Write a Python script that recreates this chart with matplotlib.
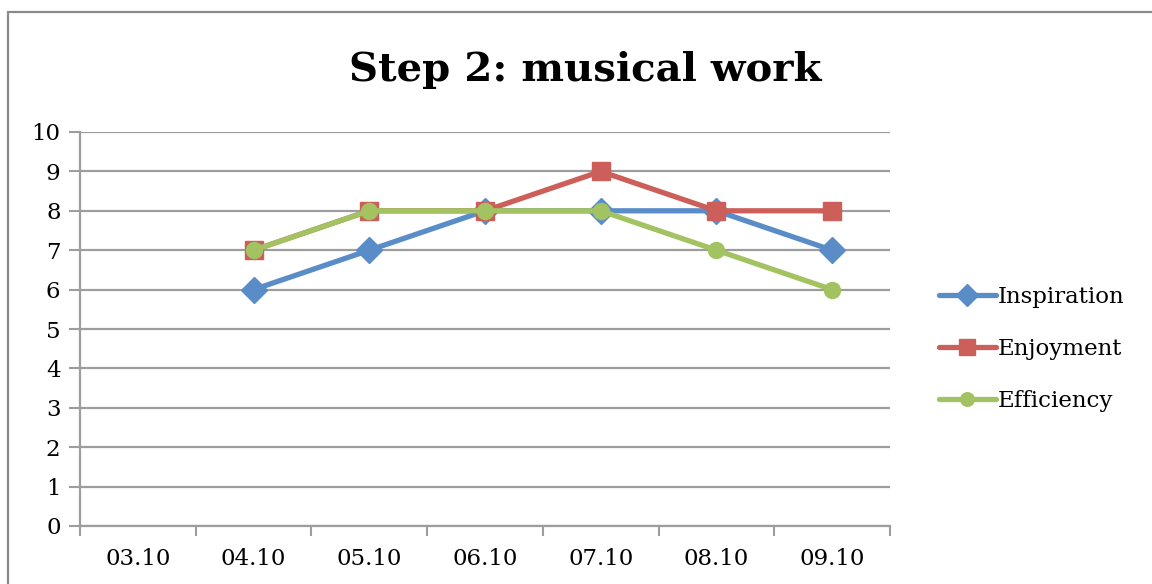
import numpy as np
import matplotlib
matplotlib.use("Agg")
import matplotlib.pyplot as plt
from matplotlib.patches import Rectangle

# Daily ratings for the musical work step
dates = ["03.10", "04.10", "05.10", "06.10", "07.10", "08.10", "09.10"]
inspiration = [np.nan, 6, 7, 8, 8, 8, 7]
enjoyment = [np.nan, 7, 8, 8, 9, 8, 8]
efficiency = [np.nan, 7, 8, 8, 8, 7, 6]
y_ticks = list(range(0, 11))

W, H = 1152, 584
fig = plt.figure(figsize=(W / 100, H / 100), dpi=100)
font = "DejaVu Serif"
grid_col = "#9d9d9d"

ax = fig.add_axes([80 / W, (H - 526) / H, 810 / W, 394 / H])
x = np.arange(len(dates))

series = [
    ("Inspiration", inspiration, "#5A8DC8", "D", 13),
    ("Enjoyment", enjoyment, "#CC5F59", "s", 13),
    ("Efficiency", efficiency, "#A3C262", "o", 11.5),
]
for name, vals, col, mk, ms in series:
    ax.plot(x, vals, color=col, lw=3.8, marker=mk, markersize=ms,
            markerfacecolor=col, markeredgecolor=col, label=name,
            solid_capstyle="round", clip_on=False, zorder=3)

ax.set_xlim(-0.5, len(dates) - 0.5)
ax.set_ylim(0, 10)

# category boundaries as tick marks, labels centred on categories
ax.set_xticks(np.arange(-0.5, len(dates)), minor=False)
ax.set_xticklabels([])
ax.set_xticks(x, minor=True)
ax.set_xticklabels(dates, minor=True, fontfamily=font, fontsize=16.5)
ax.tick_params(axis="x", which="major", length=7, width=1.5, color=grid_col, direction="out")
ax.tick_params(axis="x", which="minor", length=0, pad=16)

ax.set_yticks(y_ticks)
ax.set_yticklabels([str(v) for v in y_ticks], fontfamily=font, fontsize=16.5)
ax.tick_params(axis="y", length=8, width=1.5, color=grid_col, direction="out", pad=6)

ax.grid(axis="y", color=grid_col, lw=1.6, zorder=0)
ax.set_axisbelow(True)
for s in ("top", "right"):
    ax.spines[s].set_visible(False)
for s in ("left", "bottom"):
    ax.spines[s].set_color(grid_col)
    ax.spines[s].set_linewidth(1.6)

fig.text(585 / W, 1 - 70 / H, "Step 2: musical work", ha="center", va="center",
         fontfamily=font, fontweight="bold", fontsize=29)

fig.legend(loc="center left", bbox_to_anchor=(918 / W, 1 - 349 / H),
           frameon=False, prop={"family": font, "size": 16.5},
           handlelength=2.5, handletextpad=0.1, labelspacing=1.3,
           markerscale=0.85)

# outer chart frame
fig.patches.append(Rectangle((8 / W, -0.1), 2, 1 - 12 / H + 0.1,
                             transform=fig.transFigure, fill=False,
                             edgecolor="#8a8a8a", lw=1.6))

fig.savefig("out.png", dpi=100)
